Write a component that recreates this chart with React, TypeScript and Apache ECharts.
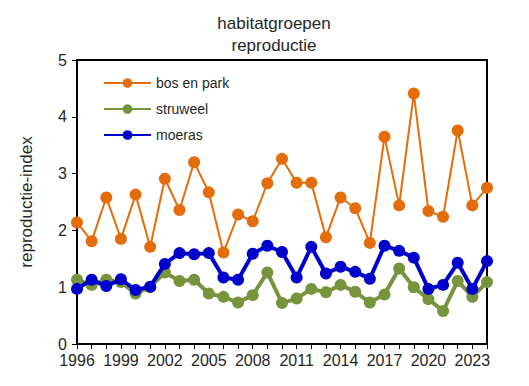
import React, { useEffect, useRef } from "react";
import * as echarts from "echarts";

const years = [
  1996, 1997, 1998, 1999, 2000, 2001, 2002, 2003, 2004, 2005, 2006, 2007, 2008, 2009, 2010,
  2011, 2012, 2013, 2014, 2015, 2016, 2017, 2018, 2019, 2020, 2021, 2022, 2023, 2024,
];
const bosEnPark = [
  2.14, 1.81, 2.58, 1.85, 2.63, 1.71, 2.91, 2.36, 3.2, 2.67, 1.61, 2.28, 2.16, 2.83, 3.26,
  2.84, 2.84, 1.88, 2.58, 2.39, 1.78, 3.65, 2.44, 4.41, 2.34, 2.24, 3.76, 2.44, 2.75,
];
const struweel = [
  1.13, 1.04, 1.13, 1.09, 0.89, 1.0, 1.26, 1.11, 1.13, 0.89, 0.83, 0.73, 0.86, 1.26, 0.72,
  0.8, 0.97, 0.91, 1.04, 0.92, 0.73, 0.87, 1.33, 1.0, 0.79, 0.58, 1.11, 0.83, 1.09,
];
const moeras = [
  0.97, 1.13, 1.02, 1.14, 0.95, 1.01, 1.41, 1.6, 1.58, 1.6, 1.17, 1.13, 1.59, 1.73, 1.62,
  1.17, 1.71, 1.24, 1.36, 1.27, 1.15, 1.73, 1.64, 1.52, 0.97, 1.04, 1.43, 0.97, 1.46,
];
const seriesNames = ["bos en park", "struweel", "moeras"];
const seriesColors = ["#E46C0A", "#77933C", "#0000CC"];
const seriesWidths = [2, 4, 4];
const titleLines = ["habitatgroepen", "reproductie"];
const yAxisName = "reproductie-index";

const FONT = "'Liberation Sans', Arial, sans-serif";

export default function App() {
  const ref = useRef<HTMLDivElement>(null);
  useEffect(() => {
    if (!ref.current) return;
    const chart = echarts.init(ref.current, undefined, { renderer: "svg" });
    const allData = [bosEnPark, struweel, moeras];
    chart.setOption({
      animation: false,
      textStyle: { fontFamily: FONT },
      title: {
        text: titleLines.join("\n"),
        left: 269,
        top: 7,
        textAlign: "center",
        textStyle: { fontSize: 17, fontWeight: "normal", color: "#262626", lineHeight: 22, fontFamily: FONT },
      },
      legend: {
        orient: "vertical",
        left: 98,
        top: 71,
        itemWidth: 47,
        itemHeight: 12,
        itemGap: 12,
        textStyle: { fontSize: 14, color: "#262626", fontFamily: FONT },
        data: seriesNames,
      },
      grid: {
        left: 77,
        right: 42,
        top: 60,
        bottom: 42,
        show: true,
        borderColor: "#000",
        borderWidth: 2,
      },
      xAxis: {
        type: "value",
        min: 1996,
        max: 2024,
        interval: 1,
        axisLine: { show: true, lineStyle: { color: "#000", width: 2 } },
        axisTick: { show: true, length: 5, lineStyle: { color: "#000", width: 1 } },
        splitLine: { show: false },
        axisLabel: {
          fontSize: 16,
          color: "#262626",
          margin: 8,
          fontFamily: FONT,
          showMaxLabel: true,
          formatter: (v: number) => ((v - 1996) % 3 === 0 ? String(v) : ""),
        },
      },
      yAxis: {
        type: "value",
        min: 0,
        max: 5,
        interval: 1,
        name: yAxisName,
        nameLocation: "middle",
        nameGap: 42,
        nameTextStyle: { fontSize: 17, color: "#262626", fontFamily: FONT },
        axisLine: { show: true, lineStyle: { color: "#000", width: 2 } },
        axisTick: { show: true, length: 5, lineStyle: { color: "#000", width: 1 } },
        splitLine: { show: false },
        axisLabel: { fontSize: 16, color: "#262626", margin: 10, fontFamily: FONT },
      },
      series: seriesNames.map((name, i) => ({
        name,
        type: "line",
        data: years.map((y, j) => [y, allData[i][j]]),
        symbol: "circle",
        symbolSize: 12,
        color: seriesColors[i],
        itemStyle: { color: seriesColors[i] },
        lineStyle: { color: seriesColors[i], width: seriesWidths[i] },
        z: i === 2 ? 4 : i === 1 ? 3 : 2,
      })),
    });
    return () => chart.dispose();
  }, []);
  return (
    <div
      ref={ref}
      style={{ position: "fixed", left: 0, top: 0, width: 529, height: 386, background: "#fff" }}
    />
  );
}
